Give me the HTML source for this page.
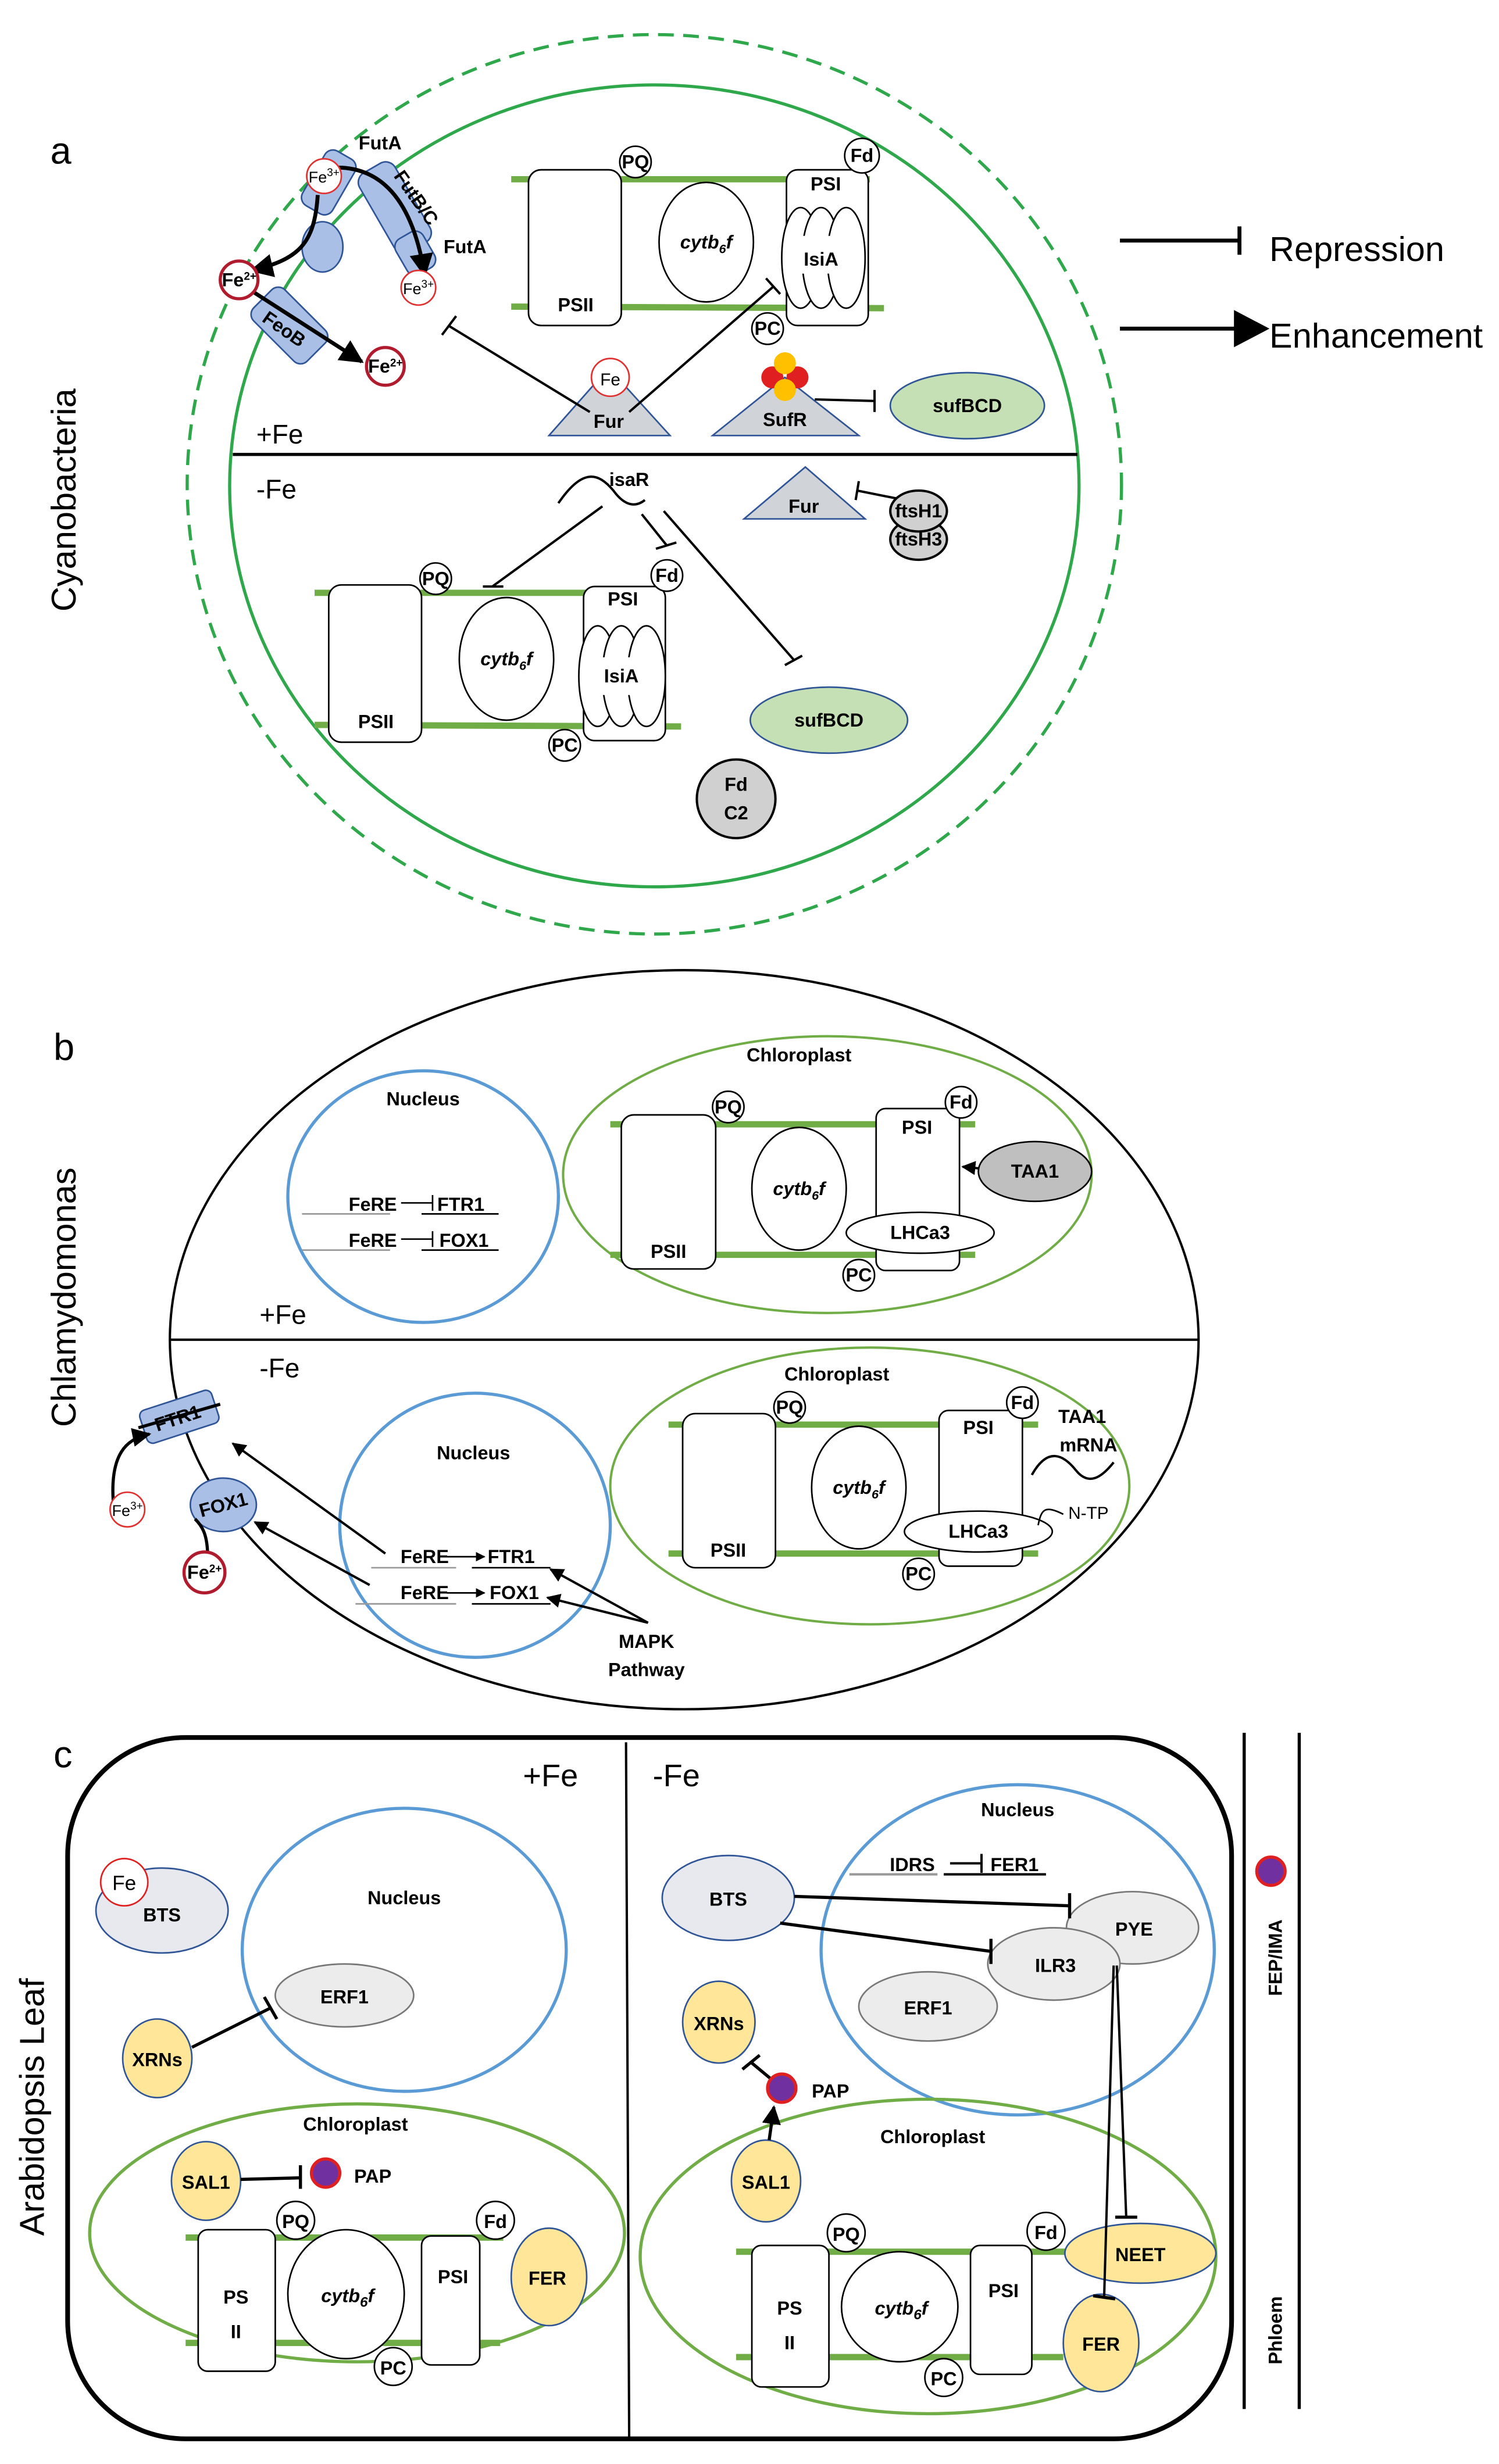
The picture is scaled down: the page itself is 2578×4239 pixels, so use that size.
<!DOCTYPE html>
<html><head><meta charset="utf-8"><style>
html,body{margin:0;padding:0;background:#fff}
svg{display:block}
text{font-family:"Liberation Sans",sans-serif}
.b{font-weight:bold;font-size:12px}
.g{stroke:#70ad47;stroke-width:4}
</style></head><body>
<svg width="2578" height="4239" viewBox="0 0 953 1567" preserveAspectRatio="none" xmlns="http://www.w3.org/2000/svg">
<defs>
<marker id="ar" viewBox="0 0 10 10" refX="9" refY="5" markerWidth="6" markerHeight="6" orient="auto"><path d="M0,0L10,5L0,10z" fill="#000"/></marker>
</defs>
<g fill="none" stroke="#000">
<!-- PANEL A -->
<ellipse cx="416" cy="308" rx="297" ry="286" stroke="#2ea84a" stroke-width="2" stroke-dasharray="10,6"/>
<ellipse cx="416" cy="309" rx="270" ry="255" stroke="#2ea84a" stroke-width="2"/>
<line x1="148" y1="289" x2="685" y2="289" stroke-width="2"/>
<line x1="712" y1="153" x2="788" y2="153" stroke-width="2.5"/><line x1="788" y1="144" x2="788" y2="162" stroke-width="2.5"/>
<line x1="712" y1="209" x2="787" y2="209" stroke-width="2.5"/><path d="M785,198L806,209L785,220z" fill="#000"/>
<line x1="325" y1="114" x2="553" y2="114" class="g"/><line x1="325" y1="195" x2="562" y2="196" class="g"/>
<rect x="336" y="108" width="59" height="99" rx="8" fill="#fff"/>
<ellipse cx="449" cy="154" rx="30" ry="38" fill="#fff"/>
<rect x="500" y="108" width="52" height="99" rx="7" fill="#fff"/>
<ellipse cx="509" cy="164" rx="12" ry="32" fill="#fff"/><ellipse cx="522" cy="164" rx="12" ry="32" fill="#fff"/><ellipse cx="538" cy="164" rx="12" ry="32" fill="#fff"/>
<rect x="506" y="150" width="36" height="24" fill="#fff" stroke="none"/>
<circle cx="404" cy="103" r="10" fill="#fff"/><circle cx="548" cy="99" r="11" fill="#fff"/><circle cx="488" cy="209" r="10" fill="#fff"/>
<path d="M349,277L387,234L426,277z" fill="#d0d3d8" stroke="#2f5597"/>
<circle cx="388" cy="240" r="12" fill="#fff" stroke="#e03030"/>
<line x1="375" y1="262" x2="285" y2="207" stroke-width="1.5"/><line x1="281" y1="213" x2="290" y2="201" stroke-width="1.5"/>
<line x1="400" y1="262" x2="492" y2="182" stroke-width="1.5"/><line x1="487" y1="177" x2="496" y2="187" stroke-width="1.5"/>
<path d="M453,277L499,240L546,277z" fill="#d0d3d8" stroke="#2f5597"/>
<circle cx="491" cy="240" r="7" fill="#e02020" stroke="none"/><circle cx="507" cy="240" r="7" fill="#e02020" stroke="none"/>
<circle cx="499" cy="231" r="7" fill="#ffc000" stroke="none"/><circle cx="499" cy="248" r="7" fill="#ffc000" stroke="none"/>
<line x1="518" y1="254" x2="556" y2="255" stroke-width="1.5"/><line x1="556" y1="248" x2="556" y2="262" stroke-width="1.5"/>
<ellipse cx="615" cy="258" rx="49" ry="21" fill="#c5e0b4" stroke="#2f5597"/>
<rect x="198" y="96" width="22" height="40" rx="6" fill="#a9bfe6" stroke="#2f5597" transform="rotate(30 209 116)"/>
<rect x="238" y="103" width="26" height="58" rx="7" fill="#a9bfe6" stroke="#2f5597" transform="rotate(-30 251 132)"/>
<rect x="254" y="148" width="20" height="26" rx="6" fill="#a9bfe6" stroke="#2f5597" transform="rotate(-30 264 161)"/>
<ellipse cx="205" cy="157" rx="13" ry="16" fill="#a9bfe6" stroke="#2f5597"/>
<rect x="170" y="183" width="28" height="48" rx="6" fill="#a9bfe6" stroke="#2f5597" transform="rotate(-45 184 207)"/>
<path d="M200,108C240,100 262,125 270,175" stroke-width="2.5" marker-end="url(#ar)"/>
<path d="M202,124C200,155 190,165 160,172" stroke-width="2.5" marker-end="url(#ar)"/>
<line x1="160" y1="185" x2="230" y2="230" stroke-width="2.5" marker-end="url(#ar)"/>
<circle cx="206" cy="112" r="11" fill="#fff" stroke="#e03030"/>
<circle cx="266" cy="183" r="11" fill="#fff" stroke="#e03030"/>
<circle cx="152" cy="178" r="12" fill="#fff" stroke="#b01c2e" stroke-width="2"/>
<circle cx="245" cy="233" r="12" fill="#fff" stroke="#b01c2e" stroke-width="2"/>
<path d="M355,320C370,298 380,300 390,312C398,323 405,322 410,318" stroke-width="1.5"/>
<line x1="383" y1="322" x2="313" y2="373" stroke-width="1.5"/><line x1="307" y1="373" x2="320" y2="373" stroke-width="1.5"/>
<line x1="408" y1="327" x2="424" y2="347" stroke-width="1.5"/><line x1="417" y1="349" x2="430" y2="345" stroke-width="1.5"/>
<line x1="422" y1="325" x2="505" y2="420" stroke-width="1.5"/><line x1="499" y1="423" x2="510" y2="417" stroke-width="1.5"/>
<path d="M473,330L512,297L550,330z" fill="#d0d3d8" stroke="#2f5597"/>
<line x1="570" y1="317" x2="545" y2="312" stroke-width="1.5"/><line x1="546" y1="306" x2="544" y2="318" stroke-width="1.5"/>
<ellipse cx="584" cy="343" rx="18" ry="13" fill="#d0d0d0" stroke-width="1.5"/>
<ellipse cx="584" cy="325" rx="18" ry="13" fill="#d0d0d0" stroke-width="1.5"/>
<line x1="200" y1="377" x2="380" y2="377" class="g"/><line x1="200" y1="461" x2="433" y2="462" class="g"/>
<rect x="209" y="372" width="59" height="100" rx="8" fill="#fff"/>
<ellipse cx="322" cy="419" rx="30" ry="39" fill="#fff"/>
<rect x="371" y="373" width="52" height="98" rx="7" fill="#fff"/>
<ellipse cx="380" cy="430" rx="12" ry="32" fill="#fff"/><ellipse cx="395" cy="430" rx="12" ry="32" fill="#fff"/><ellipse cx="411" cy="430" rx="12" ry="32" fill="#fff"/>
<rect x="378" y="418" width="36" height="24" fill="#fff" stroke="none"/>
<circle cx="277" cy="368" r="10" fill="#fff"/><circle cx="424" cy="366" r="10" fill="#fff"/><circle cx="359" cy="474" r="10" fill="#fff"/>
<ellipse cx="527" cy="458" rx="50" ry="21" fill="#c5e0b4" stroke="#2f5597"/>
<circle cx="468" cy="508" r="25" fill="#d0d0d0" stroke-width="1.5"/>

<!-- PANEL B -->
<ellipse cx="435" cy="852" rx="327" ry="235" stroke-width="1.5"/>
<line x1="108" y1="852" x2="762" y2="852" stroke-width="1.5"/>
<ellipse cx="269" cy="761" rx="86" ry="80" stroke="#5b9bd5" stroke-width="2"/>
<line x1="192" y1="772" x2="248" y2="772" stroke="#999"/><line x1="268" y1="772" x2="317" y2="772"/>
<line x1="192" y1="795" x2="248" y2="795" stroke="#999"/><line x1="268" y1="795" x2="317" y2="795"/>
<line x1="255" y1="765" x2="275" y2="765"/><line x1="275" y1="760" x2="275" y2="770"/>
<line x1="255" y1="788" x2="275" y2="788"/><line x1="275" y1="783" x2="275" y2="793"/>
<ellipse cx="526" cy="747" rx="168" ry="88" stroke="#70ad47" stroke-width="1.5"/>
<line x1="388" y1="715" x2="620" y2="715" class="g"/><line x1="388" y1="798" x2="620" y2="798" class="g"/>
<rect x="395" y="709" width="60" height="98" rx="8" fill="#fff"/>
<ellipse cx="508" cy="756" rx="30" ry="39" fill="#fff"/>
<rect x="557" y="705" width="53" height="103" rx="6" fill="#fff"/>
<ellipse cx="585" cy="784" rx="47" ry="13" fill="#fff"/>
<circle cx="463" cy="704" r="10" fill="#fff"/><circle cx="611" cy="701" r="10" fill="#fff"/><circle cx="546" cy="811" r="10" fill="#fff"/>
<ellipse cx="658" cy="745" rx="36" ry="19" fill="#bfbfbf" stroke-width="1"/>
<line x1="622" y1="743" x2="612" y2="742" stroke-width="1.5" marker-end="url(#ar)"/>
<ellipse cx="302" cy="970" rx="86" ry="84" stroke="#5b9bd5" stroke-width="2"/>
<line x1="236" y1="997" x2="290" y2="997" stroke="#999"/><line x1="300" y1="997" x2="350" y2="997"/>
<line x1="226" y1="1020" x2="290" y2="1020" stroke="#999"/><line x1="300" y1="1020" x2="350" y2="1020"/>
<line x1="284" y1="990" x2="308" y2="990" marker-end="url(#ar)"/>
<line x1="284" y1="1013" x2="308" y2="1013" marker-end="url(#ar)"/>
<line x1="412" y1="1032" x2="350" y2="998" stroke-width="1.5" marker-end="url(#ar)"/>
<line x1="412" y1="1032" x2="348" y2="1016" stroke-width="1.5" marker-end="url(#ar)"/>
<line x1="245" y1="988" x2="148" y2="918" stroke-width="1.5" marker-end="url(#ar)"/>
<line x1="235" y1="1008" x2="162" y2="968" stroke-width="1.5" marker-end="url(#ar)"/>
<rect x="90" y="890" width="48" height="22" rx="4" fill="#a9bfe6" stroke="#2f5597" transform="rotate(-18 114 901)"/>
<line x1="88" y1="908" x2="140" y2="893" stroke-width="2"/>
<ellipse cx="142" cy="957" rx="21" ry="17" fill="#a9bfe6" stroke="#2f5597"/>
<path d="M72,955C70,925 80,915 95,912" stroke-width="2" marker-end="url(#ar)"/>
<path d="M132,990C132,975 128,970 124,966" stroke-width="2"/>
<circle cx="81" cy="960" r="11" fill="#fff" stroke="#e03030"/>
<circle cx="130" cy="1000" r="13" fill="#fff" stroke="#b01c2e" stroke-width="2"/>
<ellipse cx="553" cy="945" rx="165" ry="88" stroke="#70ad47" stroke-width="1.5"/>
<line x1="425" y1="906" x2="660" y2="906" class="g"/><line x1="425" y1="988" x2="660" y2="988" class="g"/>
<rect x="434" y="899" width="59" height="98" rx="8" fill="#fff"/>
<ellipse cx="546" cy="946" rx="30" ry="39" fill="#fff"/>
<rect x="597" y="897" width="53" height="99" rx="6" fill="#fff"/>
<ellipse cx="622" cy="974" rx="47" ry="13" fill="#fff"/>
<circle cx="502" cy="895" r="10" fill="#fff"/><circle cx="650" cy="892" r="10" fill="#fff"/><circle cx="584" cy="1001" r="10" fill="#fff"/>
<path d="M656,938C666,920 676,925 684,935C692,945 700,940 708,930" stroke-width="1.5"/>
<path d="M660,970C662,960 664,957 676,963" stroke-width="1"/>

<!-- PANEL C -->
<rect x="43" y="1105" width="740" height="446" rx="75" stroke-width="3"/>
<line x1="398" y1="1108" x2="400" y2="1550" stroke-width="1.5"/>
<line x1="791" y1="1102" x2="791" y2="1532" stroke-width="2"/><line x1="826" y1="1102" x2="826" y2="1532" stroke-width="2"/>
<circle cx="808" cy="1190" r="9" fill="#7030a0" stroke="#e02020" stroke-width="2"/>
<ellipse cx="257" cy="1240" rx="103" ry="90" stroke="#5b9bd5" stroke-width="2"/>
<ellipse cx="219" cy="1269" rx="44" ry="20" fill="#ececec" stroke="#777"/>
<ellipse cx="103" cy="1215" rx="42" ry="27" fill="#e7e9ee" stroke="#2f5597"/>
<circle cx="79" cy="1197" r="15" fill="#fff" stroke="#e02020"/>
<ellipse cx="100" cy="1309" rx="22" ry="25" fill="#ffe699" stroke="#2f5597"/>
<line x1="122" y1="1302" x2="172" y2="1277" stroke-width="2"/><line x1="168" y1="1270" x2="176" y2="1284" stroke-width="2"/>
<ellipse cx="227" cy="1420" rx="170" ry="82" stroke="#70ad47" stroke-width="2"/>
<ellipse cx="131" cy="1387" rx="22" ry="25" fill="#ffe699" stroke="#2f5597"/>
<line x1="153" y1="1386" x2="191" y2="1385" stroke-width="2"/><line x1="191" y1="1377" x2="191" y2="1392" stroke-width="2"/>
<circle cx="207" cy="1382" r="9" fill="#7030a0" stroke="#e02020" stroke-width="2"/>
<line x1="118" y1="1423" x2="320" y2="1423" class="g"/><line x1="118" y1="1490" x2="318" y2="1490" class="g"/>
<rect x="126" y="1418" width="49" height="90" rx="6" fill="#fff"/>
<ellipse cx="220" cy="1459" rx="37" ry="41" fill="#fff"/>
<rect x="268" y="1422" width="37" height="82" rx="6" fill="#fff"/>
<circle cx="188" cy="1412" r="12" fill="#fff"/><circle cx="315" cy="1412" r="12" fill="#fff"/><circle cx="250" cy="1505" r="12" fill="#fff"/>
<ellipse cx="349" cy="1448" rx="24" ry="31" fill="#ffe699" stroke="#2f5597"/>
<ellipse cx="647" cy="1240" rx="125" ry="105" stroke="#5b9bd5" stroke-width="2"/>
<line x1="540" y1="1192" x2="596" y2="1192" stroke="#999" stroke-width="1.5"/><line x1="600" y1="1192" x2="665" y2="1192" stroke-width="1.5"/>
<line x1="604" y1="1185" x2="624" y2="1185" stroke-width="1.5"/><line x1="624" y1="1179" x2="624" y2="1191" stroke-width="1.5"/>
<ellipse cx="720" cy="1226" rx="42" ry="23" fill="#ececec" stroke="#777"/>
<ellipse cx="670" cy="1249" rx="42" ry="23" fill="#ececec" stroke="#777"/>
<ellipse cx="590" cy="1276" rx="44" ry="22" fill="#ececec" stroke="#777"/>
<ellipse cx="463" cy="1207" rx="42" ry="27" fill="#e7e9ee" stroke="#2f5597"/>
<line x1="505" y1="1206" x2="680" y2="1212" stroke-width="2"/><line x1="680" y1="1204" x2="680" y2="1220" stroke-width="2"/>
<line x1="496" y1="1223" x2="630" y2="1241" stroke-width="2"/><line x1="630" y1="1233" x2="630" y2="1249" stroke-width="2"/>
<ellipse cx="457" cy="1286" rx="23" ry="26" fill="#ffe699" stroke="#2f5597"/>
<line x1="490" y1="1322" x2="478" y2="1312" stroke-width="2"/><line x1="472" y1="1316" x2="483" y2="1307" stroke-width="2"/>
<circle cx="497" cy="1328" r="9" fill="#7030a0" stroke="#e02020" stroke-width="2"/>
<ellipse cx="590" cy="1435" rx="183" ry="100" stroke="#70ad47" stroke-width="2"/>
<ellipse cx="487" cy="1387" rx="22" ry="26" fill="#ffe699" stroke="#2f5597"/>
<line x1="489" y1="1361" x2="492" y2="1340" stroke-width="2" marker-end="url(#ar)"/>
<line x1="468" y1="1432" x2="680" y2="1432" class="g"/><line x1="468" y1="1499" x2="676" y2="1499" class="g"/>
<rect x="478" y="1428" width="49" height="90" rx="6" fill="#fff"/>
<ellipse cx="572" cy="1467" rx="37" ry="35" fill="#fff"/>
<rect x="617" y="1428" width="39" height="82" rx="6" fill="#fff"/>
<circle cx="538" cy="1420" r="12" fill="#fff"/><circle cx="665" cy="1419" r="12" fill="#fff"/><circle cx="600" cy="1512" r="12" fill="#fff"/>
<ellipse cx="725" cy="1433" rx="48" ry="19" fill="#ffe699" stroke="#2f5597"/>
<ellipse cx="700" cy="1490" rx="24" ry="31" fill="#ffe699" stroke="#2f5597"/>
<line x1="710" y1="1250" x2="716" y2="1410" stroke-width="1.5"/><line x1="709" y1="1410" x2="723" y2="1410" stroke-width="2"/>
<line x1="708" y1="1250" x2="702" y2="1460" stroke-width="1.5"/><line x1="695" y1="1460" x2="709" y2="1462" stroke-width="2"/>
</g>

<g fill="#000">
<text x="32" y="104" font-size="24">a</text>
<text transform="translate(48 318) rotate(-90)" font-size="22" text-anchor="middle">Cyanobacteria</text>
<text x="807" y="166" font-size="22">Repression</text>
<text x="807" y="221" font-size="22">Enhancement</text>
<text class="b" x="366" y="198" text-anchor="middle">PSII</text>
<text class="b" x="449" y="158" text-anchor="middle" font-style="italic">cytb<tspan font-size="8" dy="3">6</tspan><tspan dy="-3">f</tspan></text>
<text class="b" x="525" y="121" text-anchor="middle">PSI</text>
<text class="b" x="522" y="169" text-anchor="middle">IsiA</text>
<text class="b" x="404" y="107" text-anchor="middle" font-size="10">PQ</text>
<text class="b" x="548" y="103" text-anchor="middle" font-size="10">Fd</text>
<text class="b" x="488" y="213" text-anchor="middle" font-size="10">PC</text>
<text x="388" y="245" font-size="11" text-anchor="middle">Fe</text>
<text class="b" x="387" y="272" text-anchor="middle">Fur</text>
<text class="b" x="499" y="271" text-anchor="middle">SufR</text>
<text class="b" x="615" y="262" text-anchor="middle" font-size="11">sufBCD</text>
<text class="b" x="228" y="95" font-size="11">FutA</text>
<text class="b" x="282" y="161" font-size="11">FutA</text>
<text class="b" x="250" y="112" font-size="11" transform="rotate(55 250 112)">FutB/C</text>
<text class="b" x="166" y="204" font-size="11" transform="rotate(35 166 204)">FeoB</text>
<text x="206" y="116" font-size="10" text-anchor="middle">Fe<tspan font-size="7" dy="-4">3+</tspan></text>
<text x="266" y="187" font-size="10" text-anchor="middle">Fe<tspan font-size="7" dy="-4">3+</tspan></text>
<text class="b" x="152" y="182" font-size="10" text-anchor="middle">Fe<tspan font-size="7" dy="-4">2+</tspan></text>
<text class="b" x="245" y="237" font-size="10" text-anchor="middle">Fe<tspan font-size="7" dy="-4">2+</tspan></text>
<text x="163" y="282" font-size="17">+Fe</text>
<text x="163" y="317" font-size="17">-Fe</text>
<text class="b" x="400" y="309" text-anchor="middle" font-size="11">isaR</text>
<text class="b" x="511" y="326" text-anchor="middle">Fur</text>
<text class="b" x="584" y="329" text-anchor="middle" font-size="11">ftsH1</text>
<text class="b" x="584" y="347" text-anchor="middle" font-size="11">ftsH3</text>
<text class="b" x="239" y="463" text-anchor="middle">PSII</text>
<text class="b" x="322" y="423" text-anchor="middle" font-style="italic">cytb<tspan font-size="8" dy="3">6</tspan><tspan dy="-3">f</tspan></text>
<text class="b" x="396" y="385" text-anchor="middle">PSI</text>
<text class="b" x="395" y="434" text-anchor="middle">IsiA</text>
<text class="b" x="277" y="372" text-anchor="middle" font-size="10">PQ</text>
<text class="b" x="424" y="370" text-anchor="middle" font-size="10">Fd</text>
<text class="b" x="359" y="478" text-anchor="middle" font-size="10">PC</text>
<text class="b" x="527" y="462" text-anchor="middle" font-size="11">sufBCD</text>
<text class="b" x="468" y="503" text-anchor="middle">Fd</text>
<text class="b" x="468" y="521" text-anchor="middle">C2</text>
<text x="34" y="674" font-size="24">b</text>
<text transform="translate(48 825) rotate(-90)" font-size="22" text-anchor="middle">Chlamydomonas</text>
<text class="b" x="269" y="703" text-anchor="middle">Nucleus</text>
<text class="b" x="237" y="770" text-anchor="middle" font-size="11">FeRE</text>
<text class="b" x="293" y="770" text-anchor="middle" font-size="11">FTR1</text>
<text class="b" x="237" y="793" text-anchor="middle" font-size="11">FeRE</text>
<text class="b" x="295" y="793" text-anchor="middle" font-size="11">FOX1</text>
<text class="b" x="508" y="675" text-anchor="middle">Chloroplast</text>
<text class="b" x="425" y="800" text-anchor="middle">PSII</text>
<text class="b" x="508" y="760" text-anchor="middle" font-style="italic">cytb<tspan font-size="8" dy="3">6</tspan><tspan dy="-3">f</tspan></text>
<text class="b" x="583" y="721" text-anchor="middle">PSI</text>
<text class="b" x="585" y="788" text-anchor="middle" font-size="11">LHCa3</text>
<text class="b" x="463" y="708" text-anchor="middle" font-size="10">PQ</text>
<text class="b" x="611" y="705" text-anchor="middle" font-size="10">Fd</text>
<text class="b" x="546" y="815" text-anchor="middle" font-size="10">PC</text>
<text class="b" x="658" y="749" text-anchor="middle" font-size="11">TAA1</text>
<text x="165" y="842" font-size="17">+Fe</text>
<text x="165" y="876" font-size="17">-Fe</text>
<text class="b" x="301" y="928" text-anchor="middle">Nucleus</text>
<text class="b" x="270" y="994" text-anchor="middle" font-size="11">FeRE</text>
<text class="b" x="325" y="994" text-anchor="middle" font-size="11">FTR1</text>
<text class="b" x="270" y="1017" text-anchor="middle" font-size="11">FeRE</text>
<text class="b" x="327" y="1017" text-anchor="middle" font-size="11">FOX1</text>
<text class="b" x="411" y="1048" text-anchor="middle" font-size="11">MAPK</text>
<text class="b" x="411" y="1066" text-anchor="middle" font-size="11">Pathway</text>
<text class="b" x="113" y="906" text-anchor="middle" font-size="11" transform="rotate(-18 113 902)">FTR1</text>
<text class="b" x="142" y="961" text-anchor="middle" font-size="11" transform="rotate(-15 142 957)">FOX1</text>
<text x="81" y="964" font-size="10" text-anchor="middle">Fe<tspan font-size="7" dy="-4">3+</tspan></text>
<text class="b" x="130" y="1004" font-size="10" text-anchor="middle">Fe<tspan font-size="7" dy="-4">2+</tspan></text>
<text class="b" x="532" y="878" text-anchor="middle">Chloroplast</text>
<text class="b" x="463" y="990" text-anchor="middle">PSII</text>
<text class="b" x="546" y="950" text-anchor="middle" font-style="italic">cytb<tspan font-size="8" dy="3">6</tspan><tspan dy="-3">f</tspan></text>
<text class="b" x="622" y="912" text-anchor="middle">PSI</text>
<text class="b" x="622" y="978" text-anchor="middle" font-size="11">LHCa3</text>
<text class="b" x="502" y="899" text-anchor="middle" font-size="10">PQ</text>
<text class="b" x="650" y="896" text-anchor="middle" font-size="10">Fd</text>
<text class="b" x="584" y="1005" text-anchor="middle" font-size="10">PC</text>
<text class="b" x="688" y="905" text-anchor="middle" font-size="11">TAA1</text>
<text class="b" x="692" y="923" text-anchor="middle" font-size="11">mRNA</text>
<text x="692" y="966" text-anchor="middle" font-size="11">N-TP</text>
<text x="34" y="1124" font-size="24">c</text>
<text transform="translate(28 1340) rotate(-90)" font-size="22" text-anchor="middle">Arabidopsis Leaf</text>
<text x="350" y="1136" font-size="20" text-anchor="middle">+Fe</text>
<text x="430" y="1136" font-size="20" text-anchor="middle">-Fe</text>
<text class="b" transform="translate(815 1245) rotate(-90)" text-anchor="middle" font-size="13">FEP/IMA</text>
<text class="b" transform="translate(815 1482) rotate(-90)" text-anchor="middle" font-size="13">Phloem</text>
<text class="b" x="257" y="1211" text-anchor="middle" font-size="14">Nucleus</text>
<text class="b" x="219" y="1274" text-anchor="middle" font-size="14">ERF1</text>
<text class="b" x="103" y="1222" text-anchor="middle" font-size="14">BTS</text>
<text x="79" y="1202" font-size="13" text-anchor="middle">Fe</text>
<text class="b" x="100" y="1314" text-anchor="middle" font-size="14">XRNs</text>
<text class="b" x="226" y="1355" text-anchor="middle" font-size="14">Chloroplast</text>
<text class="b" x="131" y="1392" text-anchor="middle" font-size="14">SAL1</text>
<text class="b" x="237" y="1388" text-anchor="middle" font-size="14">PAP</text>
<text class="b" x="150" y="1465" text-anchor="middle" font-size="14">PS</text>
<text class="b" x="150" y="1487" text-anchor="middle" font-size="14">II</text>
<text class="b" x="221" y="1464" text-anchor="middle" font-size="14" font-style="italic">cytb<tspan font-size="9" dy="3">6</tspan><tspan dy="-3">f</tspan></text>
<text class="b" x="288" y="1452" text-anchor="middle" font-size="14">PSI</text>
<text class="b" x="188" y="1417" text-anchor="middle" font-size="13">PQ</text>
<text class="b" x="315" y="1417" text-anchor="middle" font-size="13">Fd</text>
<text class="b" x="250" y="1510" text-anchor="middle" font-size="13">PC</text>
<text class="b" x="348" y="1453" text-anchor="middle" font-size="14">FER</text>
<text class="b" x="647" y="1155" text-anchor="middle" font-size="14">Nucleus</text>
<text class="b" x="580" y="1190" text-anchor="middle" font-size="14">IDRS</text>
<text class="b" x="645" y="1190" text-anchor="middle" font-size="14">FER1</text>
<text class="b" x="463" y="1212" text-anchor="middle" font-size="14">BTS</text>
<text class="b" x="721" y="1231" text-anchor="middle" font-size="14">PYE</text>
<text class="b" x="671" y="1254" text-anchor="middle" font-size="14">ILR3</text>
<text class="b" x="590" y="1281" text-anchor="middle" font-size="14">ERF1</text>
<text class="b" x="457" y="1291" text-anchor="middle" font-size="14">XRNs</text>
<text class="b" x="528" y="1334" text-anchor="middle" font-size="14">PAP</text>
<text class="b" x="593" y="1363" text-anchor="middle" font-size="14">Chloroplast</text>
<text class="b" x="487" y="1392" text-anchor="middle" font-size="14">SAL1</text>
<text class="b" x="502" y="1472" text-anchor="middle" font-size="14">PS</text>
<text class="b" x="502" y="1494" text-anchor="middle" font-size="14">II</text>
<text class="b" x="573" y="1472" text-anchor="middle" font-size="14" font-style="italic">cytb<tspan font-size="9" dy="3">6</tspan><tspan dy="-3">f</tspan></text>
<text class="b" x="638" y="1461" text-anchor="middle" font-size="14">PSI</text>
<text class="b" x="538" y="1425" text-anchor="middle" font-size="13">PQ</text>
<text class="b" x="665" y="1424" text-anchor="middle" font-size="13">Fd</text>
<text class="b" x="600" y="1517" text-anchor="middle" font-size="13">PC</text>
<text class="b" x="725" y="1438" text-anchor="middle" font-size="14">NEET</text>
<text class="b" x="700" y="1495" text-anchor="middle" font-size="14">FER</text>
</g>
</svg>
</body></html>
